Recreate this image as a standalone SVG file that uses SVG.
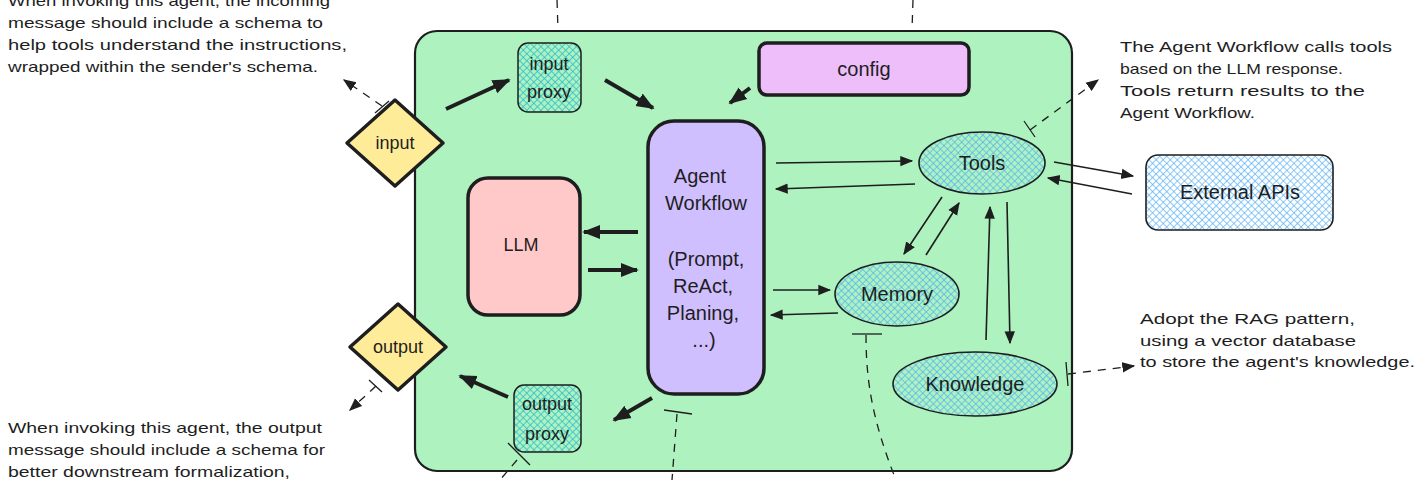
<svg xmlns="http://www.w3.org/2000/svg" width="1427" height="480" viewBox="0 0 1427 480">
<defs>
<pattern id="hBlue" patternUnits="userSpaceOnUse" width="5" height="5" patternTransform="rotate(45)">
<line x1="0" y1="0" x2="0" y2="5" stroke="#4dabf7" stroke-width="1.3"/>
<line x1="0" y1="0" x2="5" y2="0" stroke="#4dabf7" stroke-width="1.3"/>
</pattern>
<pattern id="hCyan" patternUnits="userSpaceOnUse" width="5" height="5" patternTransform="rotate(45)">
<line x1="0" y1="0" x2="0" y2="5" stroke="#22b8cf" stroke-width="1.4"/>
<line x1="0" y1="0" x2="5" y2="0" stroke="#22b8cf" stroke-width="1.4"/>
</pattern>
<marker id="ah" viewBox="0 0 10 10" refX="9" refY="5" markerWidth="13" markerHeight="13" markerUnits="userSpaceOnUse" orient="auto">
<path d="M0,1 L10,5 L0,9 Z" fill="#1e1e1e"/>
</marker>
<marker id="ahT" viewBox="0 0 10 10" refX="9" refY="5" markerWidth="18" markerHeight="18" markerUnits="userSpaceOnUse" orient="auto">
<path d="M0,1 L10,5 L0,9 Z" fill="#1e1e1e"/>
</marker>
</defs>
<style>
text{font-family:"Liberation Sans","DejaVu Sans",sans-serif;fill:#1e1e1e}
.note{font-size:15px}
.lbl{font-size:18px;text-anchor:middle}
.big{font-size:20px;text-anchor:middle}
.thin{stroke:#1e1e1e;stroke-width:1.6;fill:none}
.thick{stroke:#1e1e1e;stroke-width:4;fill:none}
.dash{stroke:#1e1e1e;stroke-width:1.3;fill:none;stroke-dasharray:8 7}
.tick{stroke:#1e1e1e;stroke-width:1.3;fill:none}
</style>

<g id="container">
<rect x="415" y="31" width="657" height="440" rx="22" fill="#adf2bf" stroke="#1e1e1e" stroke-width="2.2"/>
</g>

<g id="notes">
<text class="note" x="8" y="6" textLength="322" lengthAdjust="spacingAndGlyphs">When invoking this agent, the incoming</text>
<text class="note" x="8" y="28" textLength="315" lengthAdjust="spacingAndGlyphs">message should include a schema to</text>
<text class="note" x="8" y="50" textLength="339" lengthAdjust="spacingAndGlyphs">help tools understand the instructions,</text>
<text class="note" x="8" y="72" textLength="310" lengthAdjust="spacingAndGlyphs">wrapped within the sender's schema.</text>
<text class="note" x="8" y="433" textLength="314" lengthAdjust="spacingAndGlyphs">When invoking this agent, the output</text>
<text class="note" x="8" y="455" textLength="317" lengthAdjust="spacingAndGlyphs">message should include a schema for</text>
<text class="note" x="8" y="477" textLength="282" lengthAdjust="spacingAndGlyphs">better downstream formalization,</text>
<text class="note" x="1120" y="52" textLength="272" lengthAdjust="spacingAndGlyphs">The Agent Workflow calls tools</text>
<text class="note" x="1120" y="74" textLength="223" lengthAdjust="spacingAndGlyphs">based on the LLM response.</text>
<text class="note" x="1120" y="96" textLength="245" lengthAdjust="spacingAndGlyphs">Tools return results to the</text>
<text class="note" x="1120" y="118" textLength="135" lengthAdjust="spacingAndGlyphs">Agent Workflow.</text>
<text class="note" x="1140" y="324" textLength="215" lengthAdjust="spacingAndGlyphs">Adopt the RAG pattern,</text>
<text class="note" x="1140" y="346" textLength="216" lengthAdjust="spacingAndGlyphs">using a vector database</text>
<text class="note" x="1140" y="367" textLength="275" lengthAdjust="spacingAndGlyphs">to store the agent's knowledge.</text>
</g>

<g id="connectors">
<line class="thick" x1="446" y1="109" x2="509" y2="80" marker-end="url(#ahT)"/>
<line class="thick" x1="605" y1="80" x2="653" y2="108" marker-end="url(#ahT)"/>
<line class="thick" x1="750" y1="88" x2="730" y2="103" marker-end="url(#ahT)"/>
<line class="thick" x1="638" y1="232" x2="584" y2="232" marker-end="url(#ahT)"/>
<line class="thick" x1="588" y1="270" x2="637" y2="270" marker-end="url(#ahT)"/>
<line class="thick" x1="508" y1="397" x2="460" y2="376" marker-end="url(#ahT)"/>
<line class="thick" x1="652" y1="398" x2="614" y2="420" marker-end="url(#ahT)"/>
<line class="thin" x1="776" y1="163" x2="912" y2="161" marker-end="url(#ah)"/>
<line class="thin" x1="915" y1="184" x2="776" y2="189" marker-end="url(#ah)"/>
<line class="thin" x1="773" y1="290" x2="830" y2="290" marker-end="url(#ah)"/>
<line class="thin" x1="838" y1="313" x2="771" y2="315" marker-end="url(#ah)"/>
<line class="thin" x1="942" y1="197" x2="904" y2="254" marker-end="url(#ah)"/>
<line class="thin" x1="926" y1="255" x2="959" y2="203" marker-end="url(#ah)"/>
<line class="thin" x1="986" y1="340" x2="990" y2="207" marker-end="url(#ah)"/>
<line class="thin" x1="1007" y1="202" x2="1010" y2="343" marker-end="url(#ah)"/>
<line class="thin" x1="1054" y1="162" x2="1133" y2="176" marker-end="url(#ah)"/>
<line class="thin" x1="1132" y1="194" x2="1048" y2="178" marker-end="url(#ah)"/>
<line class="dash" x1="382" y1="106" x2="344" y2="80" marker-end="url(#ah)"/>
<line class="tick" x1="375" y1="113" x2="389" y2="101"/>
<line class="dash" x1="376" y1="386" x2="350" y2="410" marker-end="url(#ah)"/>
<line class="tick" x1="369" y1="380" x2="382" y2="392"/>
<line class="dash" x1="1030" y1="130" x2="1098" y2="80" marker-end="url(#ah)"/>
<line class="tick" x1="1024" y1="121" x2="1035" y2="137"/>
<line class="dash" x1="1068" y1="374" x2="1134" y2="366" marker-end="url(#ah)"/>
<line class="tick" x1="1066" y1="362" x2="1068" y2="386"/>
<line class="dash" x1="557" y1="0" x2="558" y2="30"/>
<line class="tick" x1="548" y1="31" x2="566" y2="31"/>
<line class="dash" x1="913" y1="0" x2="912" y2="30"/>
<line class="tick" x1="903" y1="31" x2="921" y2="31"/>
<line class="dash" x1="677" y1="414" x2="672" y2="480"/>
<line class="tick" x1="664" y1="410" x2="692" y2="414"/>
<path class="dash" d="M866,335 C866,380 872,420 896,480"/>
<line class="tick" x1="852" y1="334" x2="882" y2="334"/>
<line class="dash" x1="517" y1="460" x2="500" y2="480"/>
<line class="tick" x1="508" y1="443" x2="530" y2="465"/>
</g>

<g id="input">
<path d="M395,100 L443,143 L395,186 L347,143 Z" fill="#ffec99" stroke="#1e1e1e" stroke-width="3.5" stroke-linejoin="round"/>
<text class="lbl" x="395" y="149">input</text>
</g>
<g id="output">
<path d="M398,304 L446,347 L398,390 L350,347 Z" fill="#ffec99" stroke="#1e1e1e" stroke-width="3.5" stroke-linejoin="round"/>
<text class="lbl" x="398" y="353">output</text>
</g>
<g id="input-proxy">
<rect x="518" y="43" width="63" height="69" rx="10" fill="url(#hCyan)" stroke="#1e1e1e" stroke-width="1.5"/>
<text class="lbl" x="549" y="70">input</text>
<text class="lbl" x="549" y="98">proxy</text>
</g>
<g id="output-proxy">
<rect x="514" y="385" width="67" height="67" rx="10" fill="url(#hCyan)" stroke="#1e1e1e" stroke-width="1.5"/>
<text class="lbl" x="547" y="410">output</text>
<text class="lbl" x="547" y="440">proxy</text>
</g>
<g id="config">
<rect x="759" y="43" width="210" height="52" rx="8" fill="#eebefa" stroke="#1e1e1e" stroke-width="3.5"/>
<text class="big" x="864" y="76">config</text>
</g>
<g id="agent-workflow">
<rect x="648" y="121" width="116" height="273" rx="26" fill="#d0bfff" stroke="#1e1e1e" stroke-width="3.5"/>
<text class="big" x="700" y="183">Agent</text>
<text class="big" x="706" y="210">Workflow</text>
<text class="big" x="706" y="266">(Prompt,</text>
<text class="big" x="703" y="293">ReAct,</text>
<text class="big" x="703" y="320">Planing,</text>
<text class="big" x="704" y="347">...)</text>
</g>
<g id="llm">
<rect x="468" y="178" width="112" height="137" rx="20" fill="#ffc9c9" stroke="#1e1e1e" stroke-width="3.5"/>
<text class="lbl" x="521" y="251">LLM</text>
</g>
<g id="tools">
<ellipse cx="982" cy="163" rx="63" ry="31" fill="url(#hBlue)" stroke="#1e1e1e" stroke-width="1.6"/>
<text class="big" x="982" y="170">Tools</text>
</g>
<g id="memory">
<ellipse cx="897" cy="294" rx="62" ry="32" fill="url(#hBlue)" stroke="#1e1e1e" stroke-width="1.6"/>
<text class="big" x="897" y="301">Memory</text>
</g>
<g id="knowledge">
<ellipse cx="975" cy="384" rx="82" ry="32" fill="url(#hBlue)" stroke="#1e1e1e" stroke-width="1.6"/>
<text class="big" x="975" y="391">Knowledge</text>
</g>
<g id="external-apis">
<rect x="1146" y="155" width="187" height="75" rx="12" fill="url(#hBlue)" stroke="#1e1e1e" stroke-width="1.6"/>
<text class="big" x="1240" y="199">External APIs</text>
</g>
</svg>
